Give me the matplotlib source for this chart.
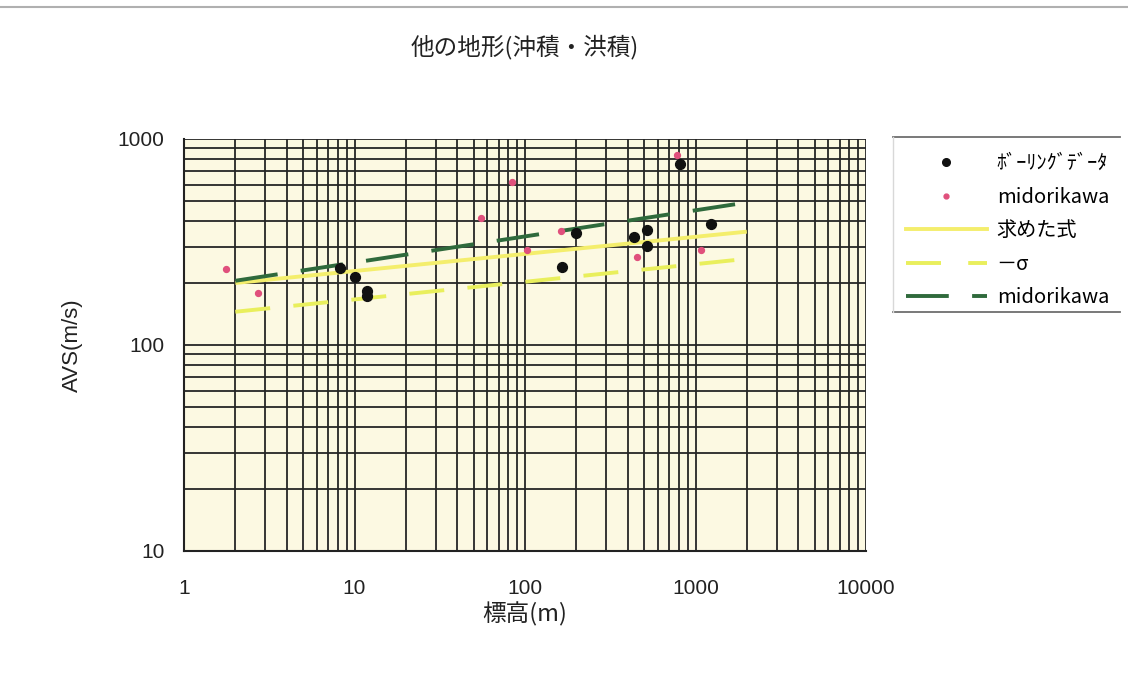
import matplotlib
matplotlib.use("Agg")
import matplotlib.pyplot as plt
from matplotlib.lines import Line2D

plt.rcParams['font.family'] = ['Noto Sans CJK JP', 'DejaVu Sans']

# Boring survey data (elevation m, AVS m/s)
boring_x = [8.2, 10, 11.9, 11.9, 164, 199, 434, 517, 517, 806, 1241]
boring_y = [237, 214, 183, 172, 239, 350, 334, 362, 302, 757, 387]

# Midorikawa reference points
mido_pts_x = [1.76, 2.71, 55, 84, 103, 162, 452, 777, 1084]
mido_pts_y = [234, 179, 414, 618, 289, 357, 267, 836, 289]

# Regression lines (endpoints at elevation 2 m and 2000 m)
line_x = [2, 2000]
fit_y = [200, 355]
minus_sigma_y = [145, 262]
mido_line_y = [205, 492]

title = "他の地形(沖積・洪積)"
xlabel = "標高(m)"
ylabel = "AVS(m/s)"
x_ticks = [1, 10, 100, 1000, 10000]
y_ticks = [10, 100, 1000]

fig = plt.figure(figsize=(11.28, 6.86), dpi=100)
fig.patch.set_facecolor('white')
ax = fig.add_axes([184 / 1128, 1 - 551 / 686, (866 - 184) / 1128, (551 - 139) / 686])
ax.set_facecolor('#fcf9e2')
ax.set_xscale('log')
ax.set_yscale('log')
ax.set_xlim(1, 10000)
ax.set_ylim(10, 1000)

ax.grid(True, which='both', axis='both', color='#262626', linewidth=1.3)
ax.set_axisbelow(True)

ax.plot(line_x, fit_y, color='#f4ee6c', linewidth=2.8, solid_capstyle='butt',
        label='求めた式', zorder=3)
ax.plot(line_x, minus_sigma_y, color='#e9ef5c', linewidth=2.8,
        dashes=(9, 6), label='－σ', zorder=3)
ax.plot(line_x, mido_line_y, color='#2f6a3c', linewidth=2.8,
        dashes=(11, 6), label='midorikawa', zorder=4)
ax.scatter(boring_x, boring_y, s=50, color='#111111', zorder=5,
           label='ﾎﾞｰﾘﾝｸﾞﾃﾞｰﾀ')
ax.scatter(mido_pts_x, mido_pts_y, s=18, color='#e0507c', zorder=5,
           label='midorikawa')

ax.set_xticks(x_ticks)
ax.set_xticklabels([str(v) for v in x_ticks])
ax.set_yticks(y_ticks)
ax.set_yticklabels([str(v) for v in y_ticks])
ax.tick_params(axis='both', which='both', length=0, labelsize=15,
               labelcolor='#222222')
ax.tick_params(axis='x', pad=20)
ax.tick_params(axis='y', pad=14)
for lab in ax.get_xticklabels() + ax.get_yticklabels():
    lab.set_fontfamily(['Liberation Sans', 'DejaVu Sans'])

for side in ['top', 'right']:
    ax.spines[side].set_visible(False)
for side in ['left', 'bottom']:
    ax.spines[side].set_color('#222222')
    ax.spines[side].set_linewidth(1.5)

ax.set_xlabel(xlabel, fontsize=17, color='#222222', labelpad=3)
ax.set_ylabel(ylabel, fontsize=16, color='#222222', labelpad=25,
              fontfamily=['Liberation Sans', 'DejaVu Sans'])
fig.text(525 / 1128, 1 - 47 / 686, title, ha='center', va='center',
         fontsize=17, color='#222222')

handles = [
    Line2D([], [], linestyle='none', marker='o', markersize=5.5, color='#111111'),
    Line2D([], [], linestyle='none', marker='o', markersize=3.5, color='#e0507c'),
    Line2D([], [], color='#f4ee6c', linewidth=2.8),
    Line2D([], [], color='#e9ef5c', linewidth=2.8, dashes=(9, 7)),
    Line2D([], [], color='#2f6a3c', linewidth=2.8, dashes=(11, 6)),
]
labels = ['ﾎﾞｰﾘﾝｸﾞﾃﾞｰﾀ', 'midorikawa', '求めた式', '－σ', 'midorikawa']
leg = fig.legend(handles, labels, loc='upper left',
                 bbox_to_anchor=(890 / 1128, 1 - 137 / 686),
                 fontsize=14.5, frameon=False, handlelength=4.0,
                 labelspacing=0.62, borderpad=0.3, handletextpad=0.5)

# legend box edges (top and bottom rules)
for ypix in (137, 312):
    fig.add_artist(Line2D([893 / 1128, 1120 / 1128], [1 - ypix / 686] * 2,
                          transform=fig.transFigure, color='#6e6e6e',
                          linewidth=1.3))
fig.add_artist(Line2D([893 / 1128] * 2, [1 - 137 / 686, 1 - 312 / 686],
                      transform=fig.transFigure, color='#d8d8d8', linewidth=1))

# light chart-area border
fig.add_artist(Line2D([0.0, 1.0], [1 - 7 / 686, 1 - 7 / 686],
                      transform=fig.transFigure, color='#b0b0b0', linewidth=1.5))

fig.savefig('out.png', dpi=100)
